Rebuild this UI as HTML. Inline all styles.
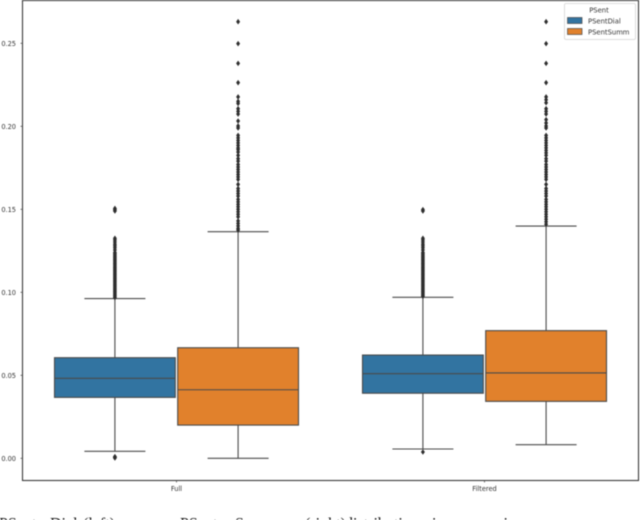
<!DOCTYPE html>
<html>
<head>
<meta charset="utf-8">
<style>
html,body{margin:0;padding:0;background:#fff;width:640px;height:520px;overflow:hidden}
svg{display:block;filter:blur(0.4px)}
text{font-family:"DejaVu Sans","Liberation Sans",sans-serif;fill:#333}
.cap{font-family:"Liberation Serif",serif;font-size:16px;fill:#111}
</style>
</head>
<body>
<svg id="chart" width="640" height="520" viewBox="0 0 640 520" xmlns="http://www.w3.org/2000/svg"></svg>
<script>
const categories = ['Full', 'Filtered'];
const hues = ['PSentDial', 'PSentSumm'];
const yTicks = [0, 0.05, 0.10, 0.15, 0.20, 0.25];
const yTickLabels = ['0.00', '0.05', '0.10', '0.15', '0.20', '0.25'];
const q1Dial = [0.0367, 0.0392];
const medianDial = [0.0482, 0.0510];
const q3Dial = [0.0606, 0.0622];
const whiskerLowDial = [0.0042, 0.0056];
const whiskerHighDial = [0.0962, 0.0970];
const q1Summ = [0.0200, 0.0343];
const medianSumm = [0.0413, 0.0514];
const q3Summ = [0.0666, 0.0769];
const whiskerLowSumm = [0.0, 0.0082];
const whiskerHighSumm = [0.1365, 0.1399];
const fliersFullDial = [0.1505, 0.1498, 0.1490, 0.1325, 0.1315, 0.1303, 0.1290, 0.1280, 0.1268, 0.1255, 0.1240, 0.1232, 0.1224, 0.1216, 0.1208, 0.1200, 0.1192, 0.1184, 0.1176, 0.1168, 0.1160, 0.1152, 0.1144, 0.1136, 0.1128, 0.1120, 0.1112, 0.1104, 0.1096, 0.1088, 0.1080, 0.1072, 0.1064, 0.1056, 0.1048, 0.1040, 0.1032, 0.1024, 0.1016, 0.1008, 0.1000, 0.0992, 0.0984, 0.0976, 0.0968, 0.0010, 0.0006, 0.0002];
const fliersFilteredDial = [0.1498, 0.1490, 0.1325, 0.1315, 0.1303, 0.1290, 0.1280, 0.1268, 0.1255, 0.1240, 0.1232, 0.1224, 0.1216, 0.1208, 0.1200, 0.1192, 0.1184, 0.1176, 0.1168, 0.1160, 0.1152, 0.1144, 0.1136, 0.1128, 0.1120, 0.1112, 0.1104, 0.1096, 0.1088, 0.1080, 0.1072, 0.1064, 0.1056, 0.1048, 0.1040, 0.1032, 0.1024, 0.1016, 0.1008, 0.1000, 0.0992, 0.0984, 0.0976, 0.0038];
const fliersFullSumm = [0.2630, 0.2498, 0.2379, 0.2263, 0.2177, 0.2150, 0.2138, 0.2106, 0.2090, 0.2074, 0.2032, 0.2002, 0.1990, 0.1945, 0.1930, 0.1915, 0.1900, 0.1885, 0.1870, 0.1860, 0.1845, 0.1825, 0.1805, 0.1790, 0.1770, 0.1755, 0.1740, 0.1725, 0.1710, 0.1695, 0.1680, 0.1650, 0.1625, 0.1610, 0.1595, 0.1580, 0.1560, 0.1545, 0.1530, 0.1515, 0.1500, 0.1485, 0.1470, 0.1455, 0.1430, 0.1415, 0.1400, 0.1385, 0.1375];
const fliersFilteredSumm = [0.2630, 0.2498, 0.2379, 0.2263, 0.2177, 0.2160, 0.2142, 0.2106, 0.2090, 0.2074, 0.2040, 0.2020, 0.2002, 0.1990, 0.1945, 0.1930, 0.1915, 0.1900, 0.1885, 0.1870, 0.1855, 0.1840, 0.1825, 0.1805, 0.1790, 0.1770, 0.1755, 0.1740, 0.1725, 0.1710, 0.1695, 0.1680, 0.1650, 0.1625, 0.1610, 0.1595, 0.1580, 0.1560, 0.1545, 0.1530, 0.1515, 0.1500, 0.1485, 0.1470, 0.1455, 0.1440, 0.1425, 0.1410];

const NS = 'http://www.w3.org/2000/svg';
const svg = document.getElementById('chart');
const plot = {left: 22.5, right: 638.5, top: 0.5, bottom: 480.5};
const colors = ['#3274a1', '#e1812c'];
const lineColor = '#4a4a4a';

function yScale(v) { return 458.3 - 1660 * v; }
function xBand(i) { return plot.left + (plot.right - plot.left) * (i + 0.5) / categories.length; }
function xHue(i, h) { return xBand(i) + (h - 0.5) * 123.2; }

function make(tag, attrs, parent) {
  const el = document.createElementNS(NS, tag);
  for (const k in attrs) el.setAttribute(k, attrs[k]);
  (parent || svg).appendChild(el);
  return el;
}
function hline(x1, x2, y, w, g) {
  return make('line', {x1: x1, x2: x2, y1: y, y2: y, stroke: lineColor, 'stroke-width': w}, g);
}

const frame = make('rect', {x: plot.left, y: plot.top, width: plot.right - plot.left, height: plot.bottom - plot.top, fill: '#fff', stroke: '#3a3a3a', 'stroke-width': 1.1});



yTicks.forEach(function (t, i) {
  const label = make('text', {x: 16, y: yScale(t) + 2.5, 'font-size': 6.6, 'text-anchor': 'end'});
  label.textContent = yTickLabels[i];
  
  
  const tick = make('line', {x1: 20.5, x2: plot.left, y1: yScale(t), y2: yScale(t), stroke: '#444', 'stroke-width': 0.7});
  
  
});

categories.forEach(function (c, i) {
  const tick = make('line', {x1: xBand(i), x2: xBand(i), y1: plot.bottom, y2: plot.bottom + 2, stroke: '#444', 'stroke-width': 0.7});
  
  
  const label = make('text', {x: xBand(i), y: 491, 'font-size': 6.6, 'text-anchor': 'middle'});
  label.textContent = c;
  
  
});

function drawBox(i, h, q1, med, q3, lo, hi, fliers) {
  const cx = xHue(i, h);
  const half = 60.4;
  const capHalf = 30.5;
  const g = make('g', {});
  
  
  make('line', {x1: cx, x2: cx, y1: yScale(q3), y2: yScale(hi), stroke: lineColor, 'stroke-width': 1.1}, g);
  make('line', {x1: cx, x2: cx, y1: yScale(q1), y2: yScale(lo), stroke: lineColor, 'stroke-width': 1.1}, g);
  hline(cx - capHalf, cx + capHalf, yScale(hi), 1.1, g);
  hline(cx - capHalf, cx + capHalf, yScale(lo), 1.1, g);
  make('rect', {x: cx - half, y: yScale(q3), width: half * 2, height: yScale(q1) - yScale(q3), fill: colors[h], stroke: lineColor, 'stroke-width': 1.1}, g);
  hline(cx - half, cx + half, yScale(med), 1.1, g);
  fliers.forEach(function (v) {
    const y = yScale(v);
    make('polygon', {points: (cx - 2) + ',' + y + ' ' + cx + ',' + (y - 2.8) + ' ' + (cx + 2) + ',' + y + ' ' + cx + ',' + (y + 2.8), fill: '#2e2e2e'}, g);
  });
}

categories.forEach(function (c, i) {
  drawBox(i, 0, q1Dial[i], medianDial[i], q3Dial[i], whiskerLowDial[i], whiskerHighDial[i], i === 0 ? fliersFullDial : fliersFilteredDial);
  drawBox(i, 1, q1Summ[i], medianSumm[i], q3Summ[i], whiskerLowSumm[i], whiskerHighSumm[i], i === 0 ? fliersFullSumm : fliersFilteredSumm);
});

const legend = make('g', {});


make('rect', {x: 564.5, y: 3.5, width: 71, height: 36, rx: 1.5, fill: '#fff', stroke: '#d5d5d5', 'stroke-width': 0.8}, legend);
const legendTitle = make('text', {x: 599, y: 12.5, 'font-size': 6.8, 'text-anchor': 'middle'}, legend);
legendTitle.textContent = 'PSent';


hues.forEach(function (name, h) {
  const y = 17.5 + h * 11;
  const swatch = make('rect', {x: 567.5, y: y, width: 14.5, height: 6, fill: colors[h], stroke: lineColor, 'stroke-width': 0.7}, legend);
  
  
  const label = make('text', {x: 588, y: y + 6, 'font-size': 6.8}, legend);
  label.textContent = name;
  
  
});

const captionWords = ['PSent', 'Dial', '(left)', 'vs.', 'PSent', 'Summ', '(right)', 'distribution', 'in', 'summaries'];
const captionStarts = [-1, 50, 83, 128, 180, 235, 305, 345, 432, 452];
captionWords.forEach(function (w, i) {
  const t = make('text', {x: captionStarts[i], y: 528.5, 'class': 'cap'});
  t.textContent = w;
  
  
});
</script>
</body>
</html>
